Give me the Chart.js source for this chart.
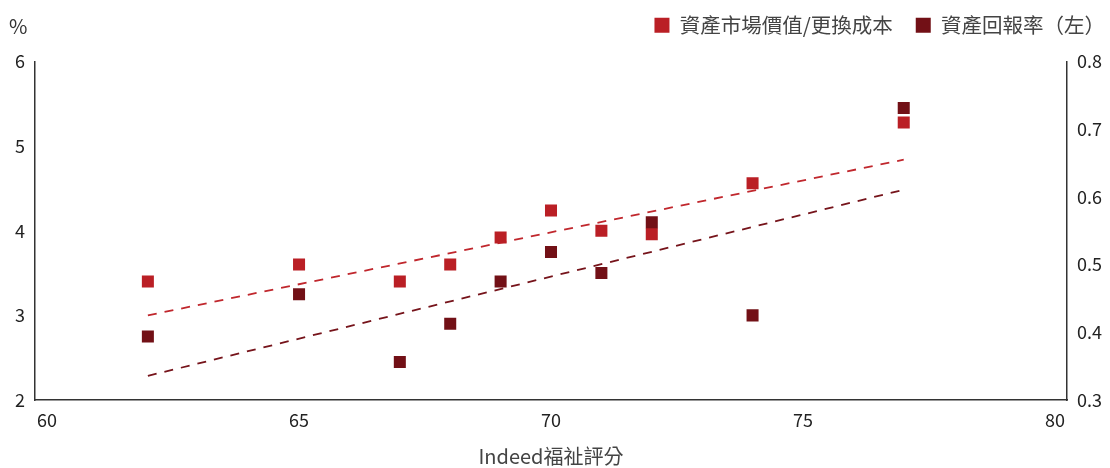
<!DOCTYPE html>
<html>
<head>
<meta charset="utf-8">
<script src="https://cdn.jsdelivr.net/npm/chart.js@4"></script>
<style>
  html, body { margin: 0; padding: 0; background: #fff; }
  #wrap { position: relative; width: 1110px; height: 468px; }
  #unit { position: absolute; left: 9px; top: 11px; font: 20px "Noto Sans CJK TC", "Liberation Sans", sans-serif; color: #333; }
</style>
</head>
<body>
<div id="wrap">
  <canvas id="chart" width="1110" height="468"></canvas>
  <div id="unit">%</div>
</div>
<script>
// Indeed福祉評分
var scores = [62, 65, 67, 68, 69, 70, 71, 72, 74, 77];
// 資產回報率 (left axis, %)
var returnRate = [2.75, 3.25, 2.45, 2.90, 3.40, 3.75, 3.50, 4.10, 3.00, 5.45];
// 資產市場價值/更換成本 (right axis)
var marketToCost = [0.475, 0.50, 0.475, 0.50, 0.54, 0.58, 0.55, 0.545, 0.62, 0.71];
// dashed trend lines, end points
var trendX = [62, 77];
var trendReturn = [2.285, 4.485];
var trendMarket = [0.425, 0.655];

var xTicks = [60, 65, 70, 75, 80];
var leftTicks = [2, 3, 4, 5, 6];
var rightTicks = [0.3, 0.4, 0.5, 0.6, 0.7, 0.8];

var red = '#ba1f25';
var darkRed = '#721016';
var font = '"Noto Sans CJK TC", "Liberation Sans", sans-serif';

function pts(xs, ys) {
    var out = [];
    for (var i = 0; i < xs.length; i++) out.push({x: xs[i], y: ys[i]});
    return out;
}

Chart.defaults.font.family = font;
Chart.defaults.color = '#333';

// leave a gap between the legend row and the plot
var legendGap = {
    id: 'legendGap',
    beforeInit: function(chart) {
        var fit = chart.legend.fit;
        chart.legend.fit = function() {
            fit.call(this);
            this.height += 16;
        };
    }
};

new Chart(document.getElementById('chart'), {
    type: 'scatter',
    plugins: [legendGap],
    data: {
        datasets: [
            {
                label: '資產市場價值/更換成本',
                data: pts(scores, marketToCost),
                yAxisID: 'y1',
                backgroundColor: red,
                borderWidth: 0,
                pointStyle: 'rect',
                pointRadius: 8.5,
                pointHoverRadius: 8.5,
                order: 1
            },
            {
                label: '資產回報率（左）',
                data: pts(scores, returnRate),
                yAxisID: 'y',
                backgroundColor: darkRed,
                borderWidth: 0,
                pointStyle: 'rect',
                pointRadius: 8.5,
                pointHoverRadius: 8.5,
                order: 0
            },
            {
                type: 'line',
                label: 'trend1',
                data: pts(trendX, trendMarket),
                yAxisID: 'y1',
                borderColor: '#c0272d',
                borderWidth: 1.8,
                borderDash: [9, 8],
                pointRadius: 0,
                fill: false,
                order: 2
            },
            {
                type: 'line',
                label: 'trend2',
                data: pts(trendX, trendReturn),
                yAxisID: 'y',
                borderColor: '#76141b',
                borderWidth: 1.8,
                borderDash: [9, 8],
                pointRadius: 0,
                fill: false,
                order: 2
            }
        ]
    },
    options: {
        responsive: false,
        animation: false,
        layout: { padding: { top: -8, right: -18, bottom: 0, left: 0 } },
        plugins: {
            tooltip: { enabled: false },
            legend: {
                position: 'top',
                align: 'end',
                labels: {
                    boxWidth: 15,
                    boxHeight: 15,
                    padding: 23,
                    color: '#444',
                    font: { size: 20.5 },
                    filter: function(item) { return item.text.indexOf('trend') !== 0; },
                    sort: function(a, b) { return a.datasetIndex - b.datasetIndex; }
                }
            }
        },
        scales: {
            x: {
                type: 'linear',
                min: 59.76,
                max: 80.24,
                afterBuildTicks: function(scale) {
                    scale.ticks = xTicks.map(function(v) { return {value: v}; });
                },
                afterFit: function(scale) { scale.height = 68; },
                grid: { display: false, drawTicks: false },
                border: { display: true, color: '#333', width: 1.5 },
                ticks: { padding: 9, font: { size: 18 }, color: '#222' },
                title: {
                    display: true,
                    text: 'Indeed福祉評分',
                    font: { size: 20 },
                    color: '#444',
                    padding: { top: 0, bottom: 0 }
                }
            },
            y: {
                position: 'left',
                min: 2,
                max: 6,
                afterBuildTicks: function(scale) {
                    scale.ticks = leftTicks.map(function(v) { return {value: v}; });
                },
                afterFit: function(scale) { scale.width = 35; },
                grid: { display: false, drawTicks: false },
                border: { display: true, color: '#333', width: 1.5 },
                ticks: { padding: 10, font: { size: 18 }, color: '#222' }
            },
            y1: {
                position: 'right',
                min: 0.3,
                max: 0.8,
                afterBuildTicks: function(scale) {
                    scale.ticks = rightTicks.map(function(v) { return {value: v}; });
                },
                afterFit: function(scale) { scale.width = 61; },
                grid: { display: false, drawTicks: false },
                border: { display: true, color: '#333', width: 1.5 },
                ticks: {
                    padding: 10,
                    font: { size: 18 },
                    color: '#222',
                    callback: function(v) { return v.toFixed(1); }
                }
            }
        }
    }
});
</script>
</body>
</html>
